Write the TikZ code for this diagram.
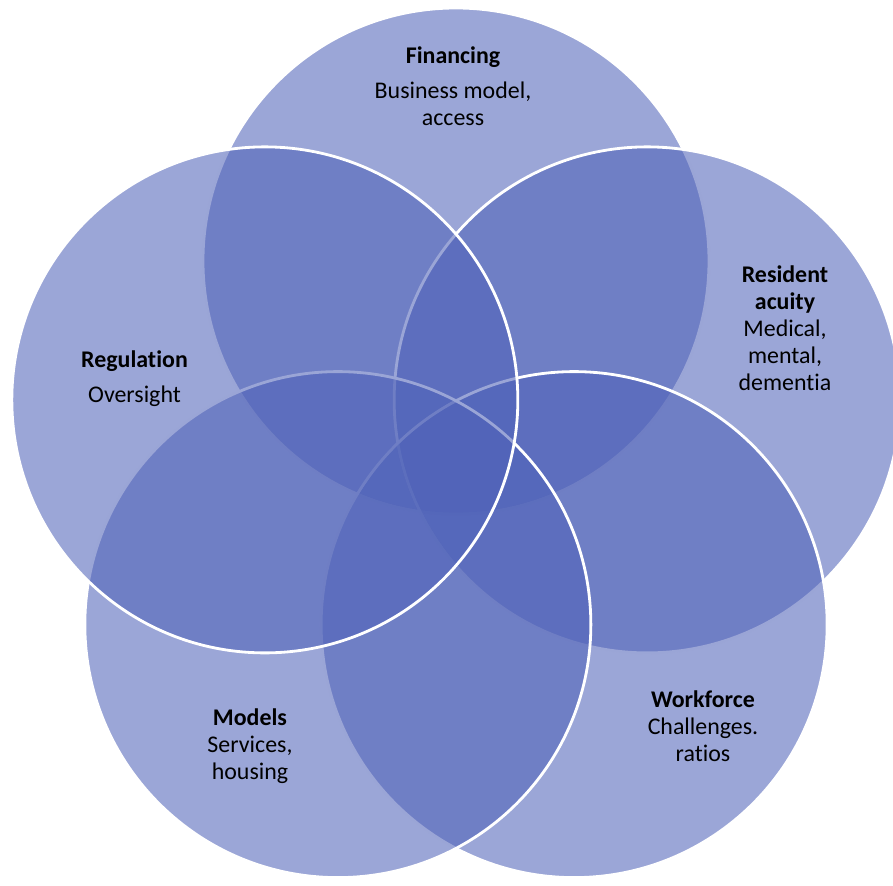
\documentclass[tikz,border=0pt]{standalone}
\usepackage{fontspec}
\setmainfont{Carlito}[Ligatures=NoCommon]
\definecolor{c1}{RGB}{79,98,184}

\begin{document}
\begin{tikzpicture}[
    set/.style={fill=c1, fill opacity=0.57, draw=white, line width=1.6pt},
    lbl/.style={align=center, text=black, font=\fontsize{13.6}{15.4}\selectfont}
  ]
  \useasboundingbox (-9.12,-8.48) rectangle (8.74,9.24);
  % five sets, clockwise from the top
  \foreach \ang/\nm in {90/fin, 18/res, -54/wrk, 234/mod, 162/reg}
    \filldraw[set] (\ang:4.02) coordinate (\nm) circle (5.06);
  \node[lbl] (finlbl) at (-0.06,7.51) {\textbf{Financing}\\[4.5pt]Business model,\\access};
  \node[lbl] (reslbl) at (6.58,2.67) {\textbf{Resident}\\\textbf{acuity}\\Medical,\\mental,\\dementia};
  \node[lbl] (wrklbl) at (4.94,-5.28) {\textbf{Workforce}\\Challenges.\\ratios};
  \node[lbl] (modlbl) at (-4.12,-5.69) {\textbf{Models}\\Services,\\housing};
  \node[lbl] (reglbl) at (-6.43,1.67) {\textbf{Regulation}\\[4.5pt]Oversight};
\end{tikzpicture}
\end{document}
